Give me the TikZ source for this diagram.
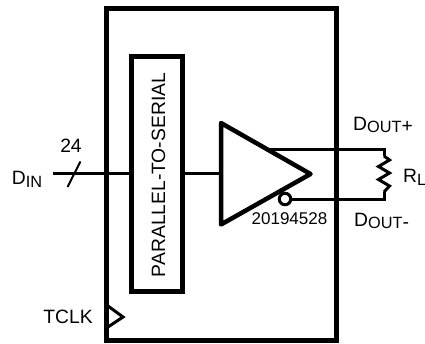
\documentclass[tikz,border=0pt]{standalone}
\usepackage{fontspec}
\setmainfont{Liberation Sans}
\tikzset{
  heavy/.style={draw=black,line width=5pt,line join=miter},
  wire/.style={draw=black,line width=3pt},
  thin wire/.style={draw=black,line width=2pt},
  lab/.style={inner sep=0pt,font=\fontsize{19.3}{21}\selectfont,text=black},
  small lab/.style={inner sep=0pt,font=\fontsize{17}{19}\selectfont,text=black},
}
\newcommand{\sm}[2]{\raisebox{#1}{\fontsize{16.3}{18}\selectfont #2}}
\begin{document}
\begin{tikzpicture}[x=1pt,y=-1pt]
\useasboundingbox (0,0) rectangle (425,343);
% outer and inner boxes
\node[heavy,minimum width=230pt,minimum height=332pt,inner sep=0pt,outer sep=0pt] (chip) at (221,174) {};
\node[heavy,minimum width=51.2pt,minimum height=235.5pt,inner sep=0pt,outer sep=0pt] (pts) at (157,174.2) {};
\node[lab,rotate=90] (ptstext) at (158.5,175) {PARALLEL-TO-SERIAL};
% driver
\coordinate (tl) at (221,123);
\coordinate (bl) at (221,224.5);
\coordinate (tip) at (310.5,174);
\draw[draw=black,line width=4.5pt,line join=round] (tl) -- (tip) -- (bl) -- cycle;
% input
\coordinate (din) at (53,173.5);
\coordinate (pl) at (pts.west |- din);
\coordinate (pr) at (pts.east |- din);
\coordinate (dl) at (tl |- din);
\draw[wire] (din) -- (pl);
\draw[wire] (pr) -- (dl);
\coordinate (s1) at (67.5,187);
\coordinate (s2) at (80.5,161.5);
\draw[thin wire] (s1) -- (s2);
% outputs
\coordinate (o1) at (270,149);
\coordinate (r1) at (384,149);
\coordinate (r2) at (384,199);
\node[draw=black,line width=3pt,circle,minimum size=11.5pt,inner sep=0pt,outer sep=0pt,fill=white] (bub) at (285,199) {};
\draw[wire,line cap=rect] (o1) -- (r1);
\draw[wire,line cap=rect] (bub.east) -- (r2);
\coordinate (ra) at (384,156);
\coordinate (rb) at (384,192);
\draw[wire] (r1) -- (ra);
\draw[wire] (rb) -- (r2);
\draw[wire,line join=miter] (ra) -- (389.5,160) -- (378.5,166.5) -- (389.5,173) -- (378.5,179.5) -- (389.5,186) -- (rb);
% clock
\coordinate (c1) at (108,306);
\coordinate (c2) at (123,317);
\coordinate (c3) at (108,327);
\draw[wire,line join=miter] (c1) -- (c2) -- (c3);
% labels
\node[lab,anchor=base west] (ldin) at (11.8,184.3) {D\sm{-3pt}{IN}};
\node[lab] (l24) at (71,146) {24};
\node[lab] (ltclk) at (68,317) {TCLK};
\node[lab,anchor=base west] (lp) at (353,130) {D\sm{-2pt}{OUT}\raisebox{-2pt}{\fontsize{19.3}{21}\selectfont +}};
\node[lab,anchor=base west] (lm) at (354,226.7) {D\sm{-2pt}{OUT}\raisebox{-2pt}{\fontsize{19.3}{21}\selectfont -}};
\node[lab,anchor=base west] (lr) at (403,182) {R\sm{-3pt}{L}};
\node[small lab] (lnum) at (289.5,218.5) {20194528};
\end{tikzpicture}
\end{document}
